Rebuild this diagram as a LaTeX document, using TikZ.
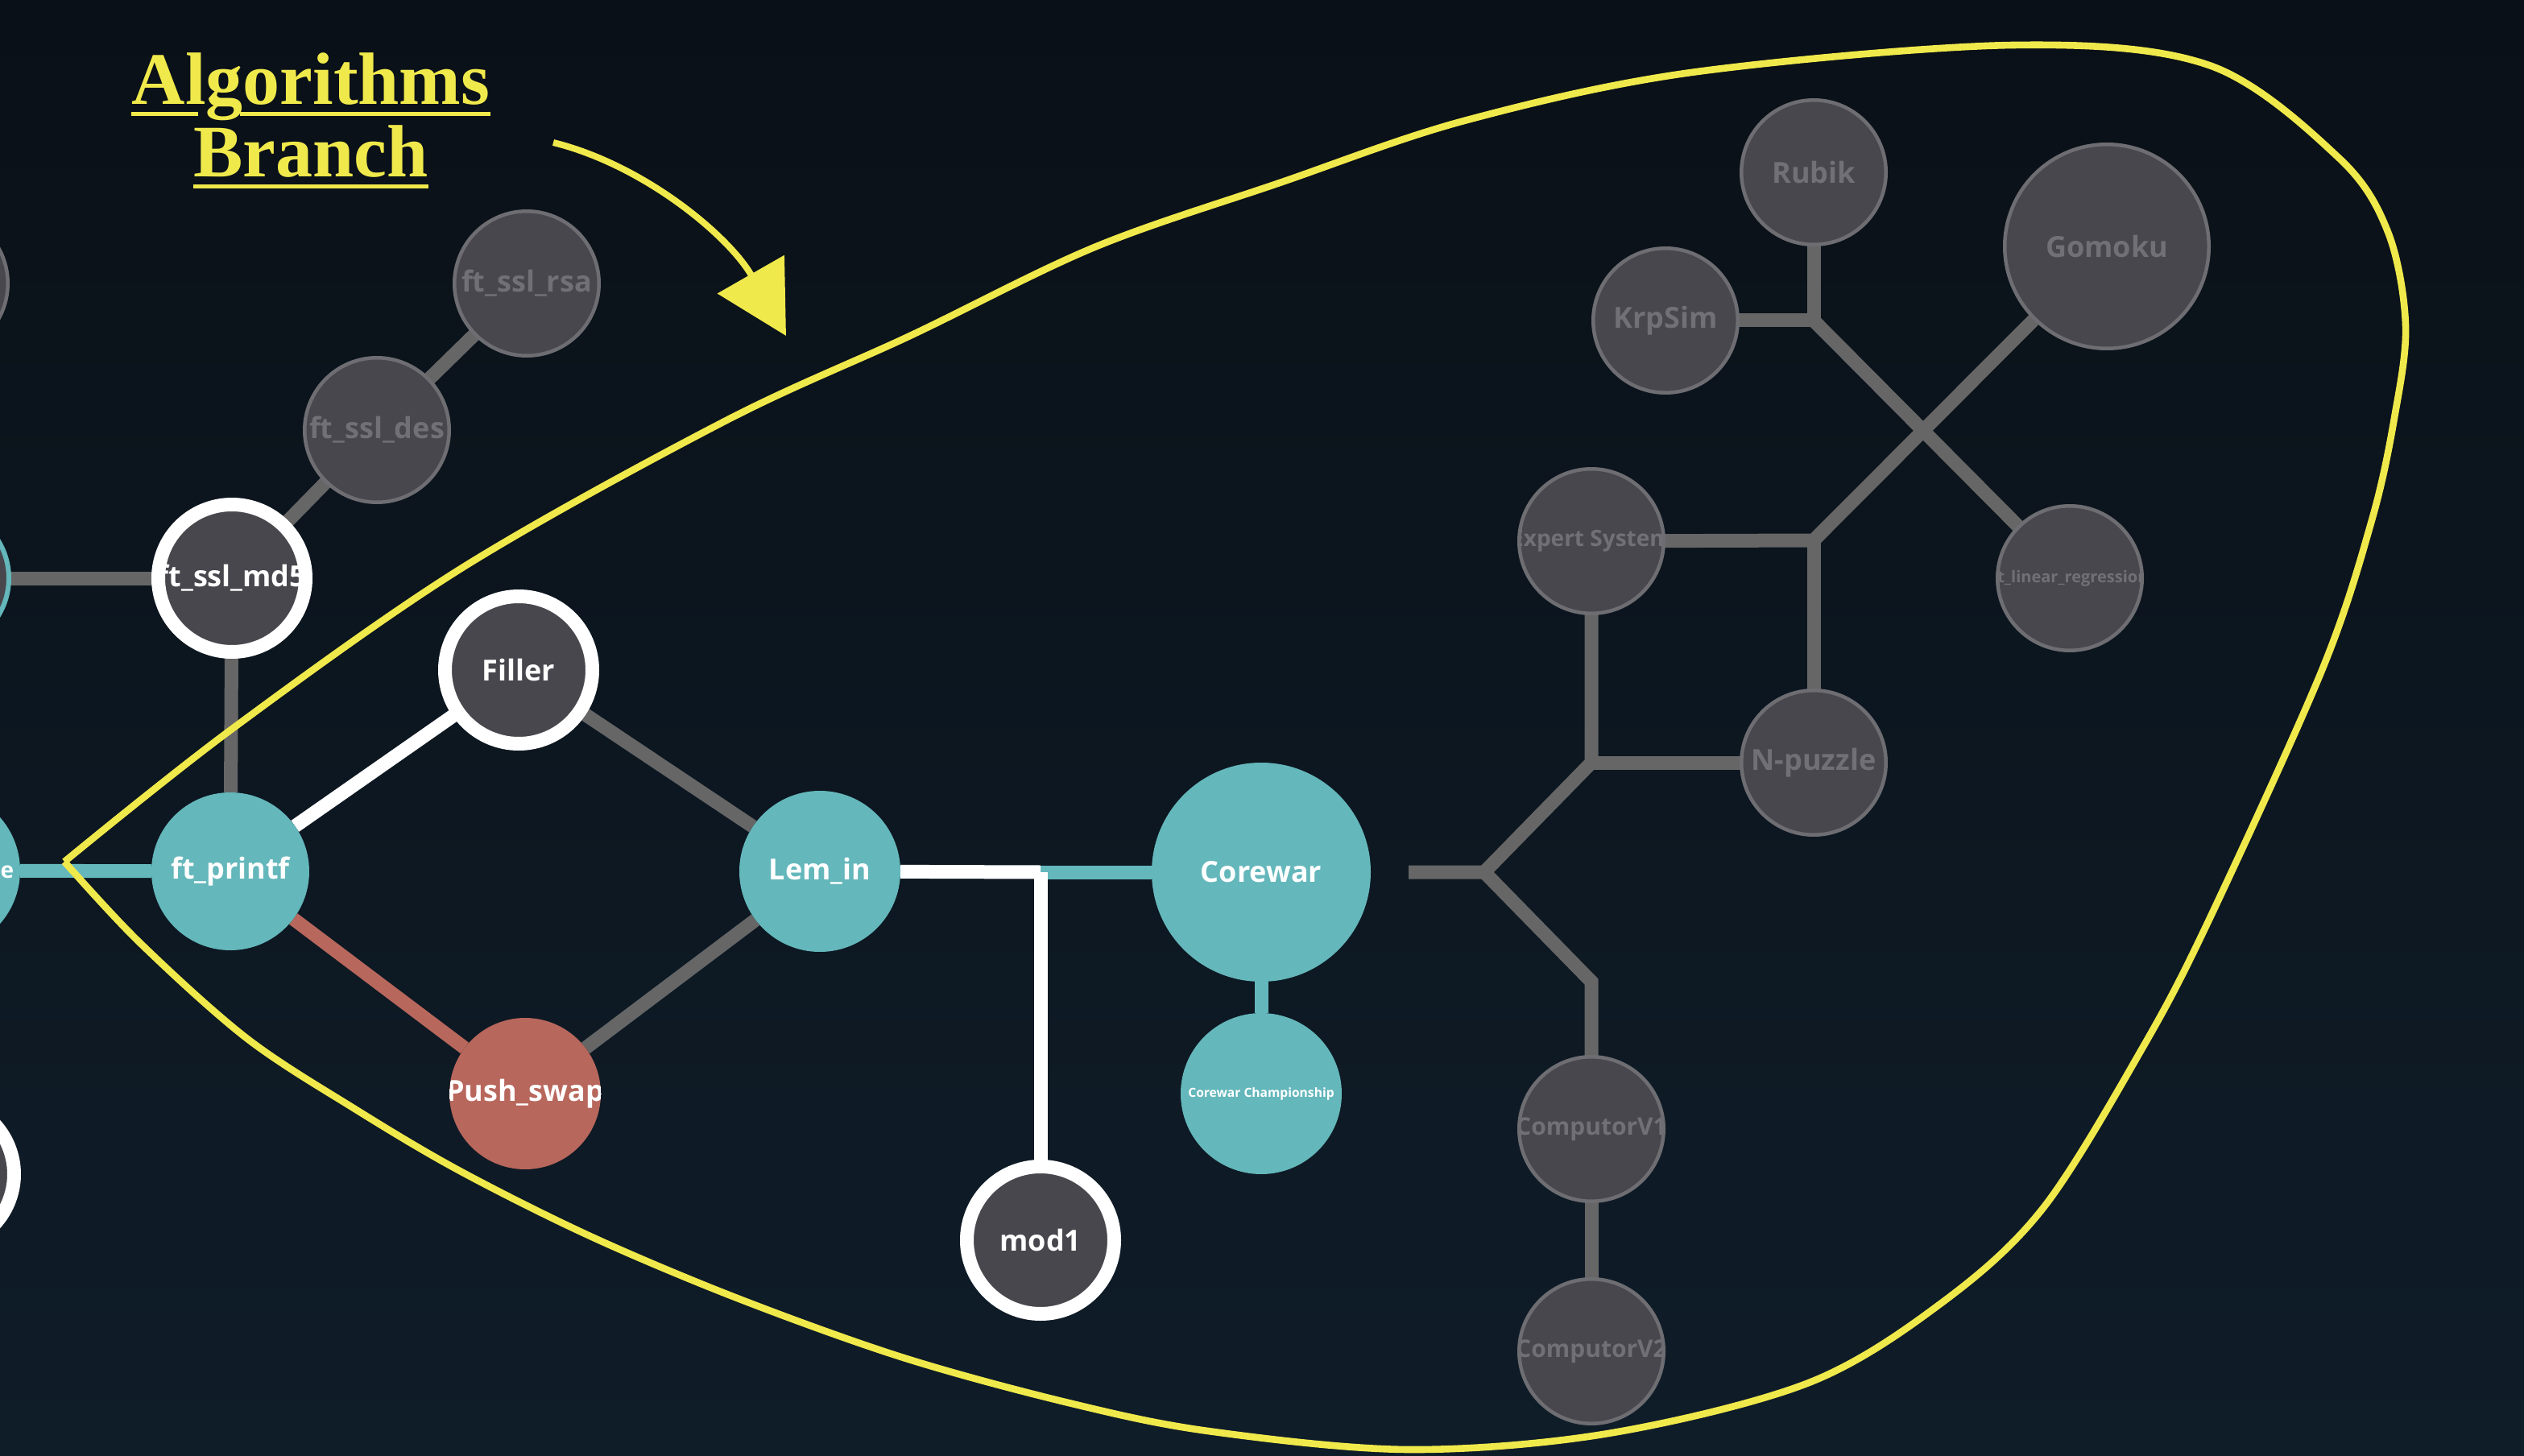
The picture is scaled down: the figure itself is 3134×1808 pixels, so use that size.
\documentclass[tikz,border=0pt]{standalone}
\usepackage{fontspec}
\newfontfamily\osans{Open Sans}
\newfontfamily\tserif{Liberation Serif}
\usetikzlibrary{arrows.meta,backgrounds}
\definecolor{teal1}{HTML}{64B7BB}
\definecolor{red1}{HTML}{B8675C}
\definecolor{dark1}{HTML}{48474D}
\definecolor{grayb}{HTML}{6D6D72}
\definecolor{grayt}{HTML}{707076}
\definecolor{glin}{HTML}{666666}
\definecolor{yel}{HTML}{F0E94B}
\definecolor{bgtop}{HTML}{0A1017}
\definecolor{bgbot}{HTML}{0F1D29}
\begin{document}
\begin{tikzpicture}[x=0.5pt,y=-0.5pt,
  lblfont/.style={font=\osans\bfseries\fontsize{#1}{#1}\selectfont},
  base/.style={circle, inner sep=0pt, outer sep=0pt, align=center},
  tnode/.style={base, fill=teal1, minimum size=#1, lblfont=18, text=white},
  rnode/.style={base, fill=red1, minimum size=#1, lblfont=18, text=white},
  ring/.style={base, fill=dark1, draw=white, line width=8.5pt, minimum size=91.5pt, lblfont=18, text=white},
  gnode/.style={base, fill=dark1, draw=grayb, line width=2.25pt, minimum size=#1, lblfont=18, text=grayt},
  wclip/.style 2 args={path picture={\node[inner sep=0pt, text=white, lblfont=#1] at (path picture bounding box.center) {#2};}},
  gclip/.style 2 args={path picture={\node[inner sep=0pt, text=grayt, lblfont=#1] at (path picture bounding box.center) {#2};}},
  gl/.style={draw=glin, line width=8.5pt},
  wl/.style={draw=white, line width=8.5pt},
  tl/.style={draw=teal1, line width=8.5pt},
  rl/.style={draw=red1, line width=8.5pt},
  yline/.style={draw=yel, line width=4.3pt},
  titlefont/.style={font=\tserif\bfseries\fontsize{46}{50}\selectfont, text=yel, inner sep=0pt, anchor=base}
]
\useasboundingbox (0,0) rectangle (3134,1808);
\clip (0,0) rectangle (3134,1808);

% partial nodes at the left edge
\node[gnode=89.75pt] (lt) at (-80,352) {};
\node[base, fill=dark1, draw=teal1, line width=3pt, minimum size=89pt] (lm) at (-78,718) {};
\node[tnode=100pt] (le) at (-75,1081) {};
\node[inner sep=0pt, text=white, lblfont=14] (letext) at (9,1083) {e};
\node[ring] (lb) at (-74,1458) {};

% left cluster
\node[gnode=89.75pt] (rsa) at (654,352) {ft\_ssl\_rsa};
\node[gnode=89.75pt] (des) at (468,534) {ft\_ssl\_des};
\node[ring, wclip={18}{ft\_ssl\_md5}] (md5) at (288,718) {};
\node[ring] (filler) at (644,832) {Filler};
\node[tnode=98pt] (printf) at (286,1082) {ft\_printf};
\node[rnode=94pt, wclip={18}{Push\_swap}] (push) at (652,1358) {};
\node[tnode=100pt] (lemin) at (1018,1082) {Lem\_in};
\node[tnode=136pt] (corewar) at (1566,1083) {Corewar};
\node[tnode=100pt, lblfont=7.8] (champ) at (1566,1358) {Corewar Championship};
\node[ring] (mod1) at (1292,1540) {mod1};

% right cluster
\node[gnode=89.75pt] (rubik) at (2252,214) {Rubik};
\node[gnode=126.75pt] (gomoku) at (2616,306) {Gomoku};
\node[gnode=89.75pt] (krpsim) at (2068,398) {KrpSim};
\node[gnode=89.75pt, gclip={14}{Expert System}] (expert) at (1976,672) {};
\node[gnode=89.75pt, gclip={10}{ft\_linear\_regression}] (linreg) at (2570,718) {};
\node[gnode=89.75pt] (npuzzle) at (2252,947) {N-puzzle};
\node[gnode=89.75pt, gclip={15}{ComputorV1}] (cv1) at (1976,1402) {};
\node[gnode=89.75pt, gclip={15}{ComputorV2}] (cv2) at (1976,1678) {};

% junction coordinates
\coordinate (jF) at (1292,1083);
\coordinate (cS) at (1749,1083);
\coordinate (jC) at (1843,1083);
\coordinate (jD) at (1976,947);
\coordinate (jE) at (1976,1219);
\coordinate (jA) at (2252,398);
\coordinate (jB) at (2252,671);

\begin{scope}[on background layer]
  \clip (0,0) rectangle (3134,1808);
  \shade[top color=bgtop, bottom color=bgbot] (0,0) rectangle (3134,1808);
  \draw[gl] (lm) -- (md5);
  \draw[gl] (md5) -- (printf);
  \draw[gl] (md5) -- (des);
  \draw[gl] (des) -- (rsa);
  \draw[tl] (le) -- (printf);
  \draw[wl] (printf) -- (filler);
  \draw[rl] (printf) -- (push);
  \draw[gl] (filler) -- (lemin);
  \draw[gl] (push) -- (lemin);
  \draw[tl] (jF) -- (corewar);
  \draw[wl] (lemin) -- (jF);
  \draw[wl] (jF) -- (mod1);
  \draw[tl] (corewar) -- (champ);
  \draw[gl, line join=miter] (cS) -- (jC) -- (jD) -- (expert);
  \draw[gl] (jD) -- (npuzzle);
  \draw[gl, line join=miter] (jC) -- (jE) -- (cv1);
  \draw[gl] (cv1) -- (cv2);
  \draw[gl, line join=miter] (rubik) -- (jA) -- (krpsim);
  \draw[gl] (jA) -- (linreg);
  \draw[gl, line join=miter] (gomoku) -- (jB) -- (expert);
  \draw[gl] (jB) -- (npuzzle);
\end{scope}

% title
\node[titlefont] (t1) at (386,130) {Algorithms};
\node[titlefont] (t2) at (386,220) {Branch};
\draw[yel, line width=2.5pt] ([yshift=-6pt]t1.base west) -- ([yshift=-6pt,xshift=41.5pt]t1.base west)
  ([yshift=-6pt,xshift=67.5pt]t1.base west) -- ([yshift=-6pt]t1.base east);
\draw[yel, line width=2.5pt] ([yshift=-6pt]t2.base west) -- ([yshift=-6pt]t2.base east);

% pointing arrow
\coordinate (arrS) at (687,177);
\coordinate (arrE) at (976,417);
\draw[yel, line width=4pt, -{Triangle[length=44pt,width=47pt]}] (arrS) .. controls (800,205) and (905,293) .. (arrE);

% branch outline
\draw[yline, line join=miter] plot[smooth, tension=0.55] coordinates {
 (80,1070) (287,906) (574,705) (900,523) (1130,417)
 (1359,307) (1589,227) (1818,150) (2100,90) (2500,56) (2743,81) (2904,196)
 (2965,288) (2987,404) (2973,519) (2945,646) (2884,830) (2743,1142) (2661,1300)
 (2537,1500) (2412,1617) (2246,1717) (1997,1780) (1749,1800) (1500,1777) (1327,1742)
 (1122,1686) (918,1613) (735,1536) (571,1454) (439,1376) (306,1289) (173,1170) (80,1070)};
\end{tikzpicture}
\end{document}
